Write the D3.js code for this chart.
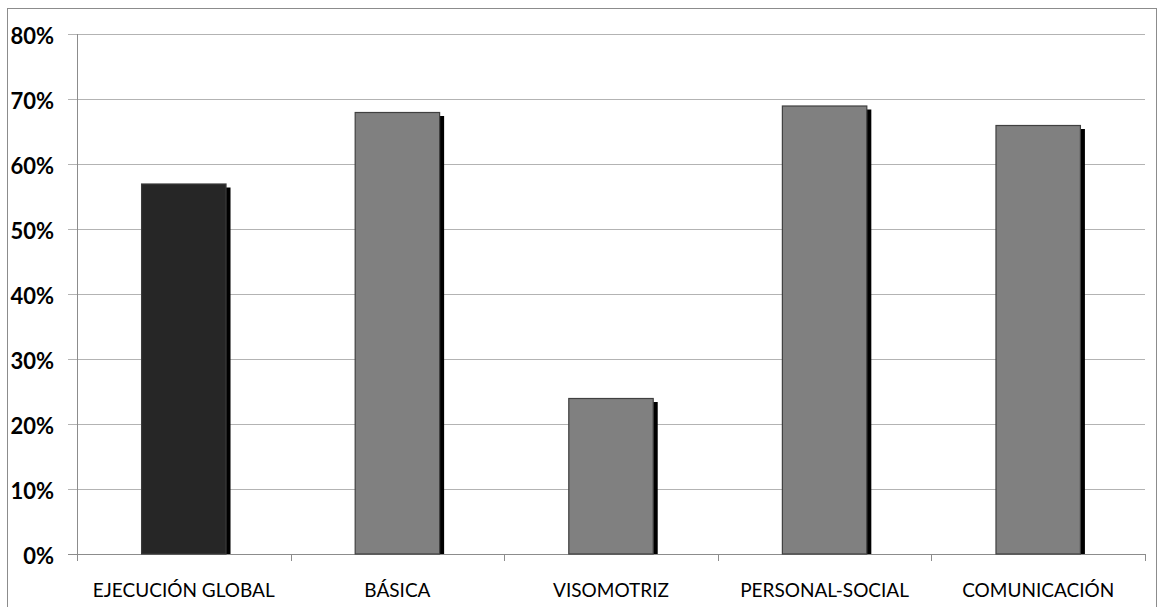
<!DOCTYPE html>
<html>
<head>
<meta charset="utf-8">
<script src="https://cdn.jsdelivr.net/npm/d3@7"></script>
<style>
  html, body { margin: 0; padding: 0; background: #fff; }
  svg { display: block; }
</style>
</head>
<body>
<svg id="chart" width="1164" height="607"></svg>
<script>
// Area scores as a share of the maximum
const categories = ["EJECUCIÓN GLOBAL", "BÁSICA", "VISOMOTRIZ", "PERSONAL-SOCIAL", "COMUNICACIÓN"];
const values = [0.57, 0.68, 0.24, 0.69, 0.66];
const barColors = ["#262626", "#808080", "#808080", "#808080", "#808080"];
const tickValues = [0, 0.1, 0.2, 0.3, 0.4, 0.5, 0.6, 0.7, 0.8];

(function () {
  const svg = d3.select("#chart");
  const W = 1164, H = 607;
  const plotLeft = 77, plotRight = 1145, plotTop = 34, plotBottom = 554;

  // outer frame
  svg.append("rect")
    .attr("x", 7.5).attr("y", 8.5)
    .attr("width", W - 15).attr("height", H - 8)
    .attr("fill", "#fff").attr("stroke", "#8c8c8c").attr("stroke-width", 1);

  const x = d3.scaleBand().domain(categories).range([plotLeft, plotRight]).paddingInner(0.6).paddingOuter(0.3);
  const y = d3.scaleLinear().domain([0, 0.8]).range([plotBottom, plotTop]);

  // horizontal gridlines with tick stubs
  svg.append("g").selectAll("line").data(tickValues).join("line")
    .attr("x1", plotLeft - 9).attr("x2", plotRight)
    .attr("y1", d => Math.round(y(d)) + 0.5).attr("y2", d => Math.round(y(d)) + 0.5)
    .attr("stroke", d => d === 0 ? "#8c8c8c" : "#b3b3b3").attr("stroke-width", 1);

  // y axis line
  svg.append("line")
    .attr("x1", plotLeft + 0.5).attr("x2", plotLeft + 0.5)
    .attr("y1", plotTop).attr("y2", plotBottom + 7)
    .attr("stroke", "#8c8c8c");

  // category separators below the baseline
  const bounds = d3.range(1, categories.length + 1).map(i => plotLeft + (plotRight - plotLeft) * i / categories.length);
  svg.append("g").selectAll("line").data(bounds).join("line")
    .attr("x1", d => Math.round(d) + 0.5).attr("x2", d => Math.round(d) + 0.5)
    .attr("y1", plotBottom).attr("y2", plotBottom + 7)
    .attr("stroke", "#8c8c8c");

  // y tick labels
  svg.append("g").selectAll("text").data(tickValues).join("text")
    .attr("x", 54).attr("y", d => y(d) + 2)
    .attr("dy", "0.36em")
    .attr("text-anchor", "end")
    .attr("font-family", "Lato, 'Open Sans', sans-serif")
    .attr("font-weight", "bold")
    .attr("font-size", 22)
    .attr("fill", "#000")
    .text(d3.format(".0%"));

  // bars with drop shadow
  const bars = svg.append("g").selectAll("g").data(categories).join("g");
  bars.append("rect")
    .attr("x", d => x(d) + 4)
    .attr("y", (d, i) => y(values[i]) + 4)
    .attr("width", x.bandwidth())
    .attr("height", (d, i) => plotBottom - y(values[i]) - 4)
    .attr("fill", "#000");
  bars.append("rect")
    .attr("x", d => x(d) + 0.5)
    .attr("y", (d, i) => y(values[i]) + 0.5)
    .attr("width", x.bandwidth() - 1)
    .attr("height", (d, i) => plotBottom - y(values[i]) - 0.5)
    .attr("fill", (d, i) => barColors[i])
    .attr("stroke", (d, i) => i === 0 ? "#3a3a3a" : "#404040")
    .attr("stroke-width", 1.2);

  // category labels
  svg.append("g").selectAll("text").data(categories).join("text")
    .attr("x", d => x(d) + x.bandwidth() / 2)
    .attr("y", 590.5)
    .attr("dy", "0.36em")
    .attr("text-anchor", "middle")
    .attr("font-family", "Lato, 'Open Sans', sans-serif")
    .attr("font-size", 19)
    .attr("fill", "#000")
    .text(d => d);
})();
</script>
</body>
</html>
